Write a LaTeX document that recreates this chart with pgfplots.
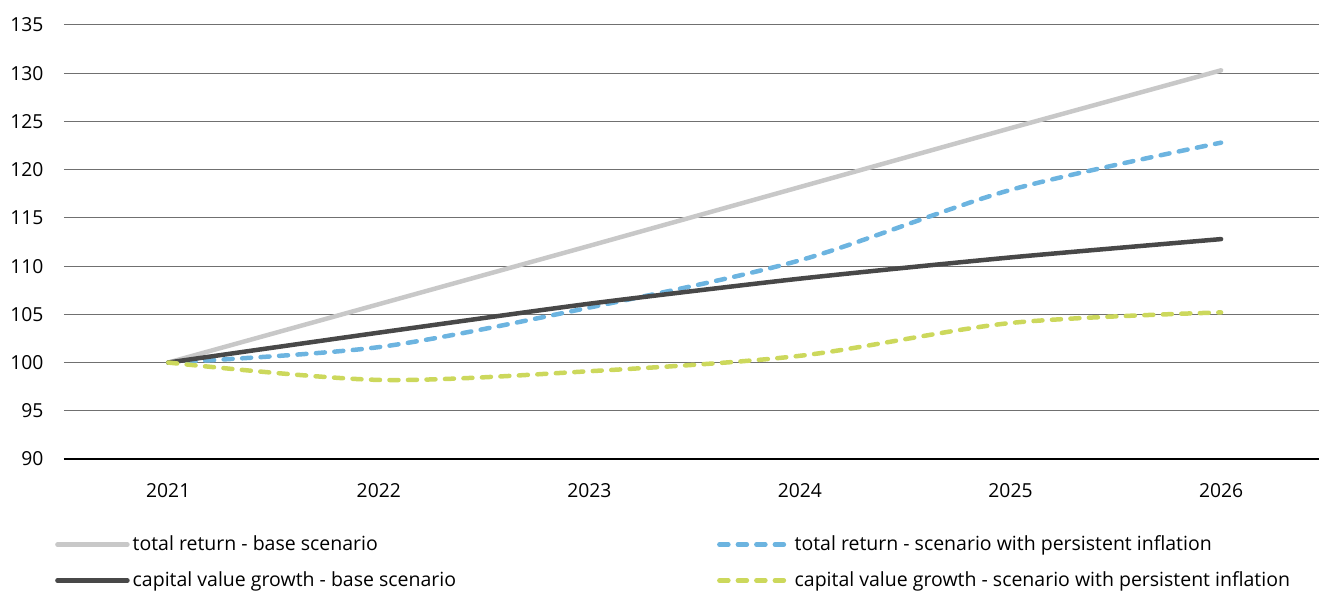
\documentclass[border=0pt]{standalone}
\usepackage{pgfplots}
\pgfplotsset{compat=1.18}
\usetikzlibrary{calc}
\usepackage{fontspec}
\setmainfont{Open Sans}
\definecolor{lgray}{HTML}{C8C8C8}
\definecolor{dgray}{HTML}{484848}
\definecolor{lblue}{HTML}{6CB4E0}
\definecolor{lgreen}{HTML}{CCD85C}
\definecolor{gridc}{HTML}{707070}
\begin{document}
\fontsize{19bp}{23bp}\selectfont
\begin{tikzpicture}
\begin{axis}[
  scale only axis,
  clip=false,
  width=1255bp, height=434bp,
  xmin=2020.505, xmax=2026.465,
  ymin=90, ymax=135,
  xtick={2021,2022,2023,2024,2025,2026},
  xticklabels={2021,2022,2023,2024,2025,2026},
  ytick={90,95,...,135},
  axis line style={draw=none},
  major tick length=0pt,
  ymajorgrids,
  grid style={gridc, line width=1bp},
  tick label style={font=\fontsize{19.3bp}{23bp}\selectfont},
  /pgf/number format/assume math mode=true,
  yticklabel style={anchor=east, xshift=-14bp},
  xticklabel style={anchor=north, yshift=-18bp},
  legend columns=2,
  legend cell align=left,
  legend style={
    at={(rel axis cs:-0.00717,-0.1765)}, anchor=north west,
    draw=none, fill=none, inner sep=0pt,
    font=\fontsize{19.5bp}{23bp}\selectfont,
    nodes={inner sep=0pt, anchor=west},
    row sep=18bp,
    /tikz/every odd column/.append style={column sep=3bp},
    /tikz/every even column/.append style={column sep=261bp},
  },
  legend image code/.code={\draw[#1] (0bp,0bp) -- (70bp,0bp);},
  every axis plot/.append style={line width=4.5bp},
]
\addplot[lgray, line cap=round] coordinates {(2021,100) (2022,106.05) (2023,112.1) (2024,118.2) (2025,124.3) (2026,130.3)};
\addlegendentry{total return - base scenario}
\addplot[lblue, smooth, tension=0.5, line cap=round, dash pattern=on 9bp off 9.5bp] coordinates {(2021,100) (2022,101.6) (2023,105.7) (2024,110.6) (2025,117.9) (2026,122.8)};
\addlegendentry{total return - scenario with persistent inflation}
\addplot[dgray, smooth, tension=0.4, line cap=round] coordinates {(2021,100) (2022,103.1) (2023,106.1) (2024,108.7) (2025,110.9) (2026,112.8)};
\addlegendentry{capital value growth - base scenario}
\addplot[lgreen, smooth, tension=0.5, line cap=round, dash pattern=on 9bp off 9.5bp] coordinates {(2021,100) (2022,98.2) (2023,99.1) (2024,100.7) (2025,104.1) (2026,105.2)};
\addlegendentry{capital value growth - scenario with persistent inflation}
\draw[black, line width=2.4bp] (rel axis cs:0,0) -- (rel axis cs:1,0);
\end{axis}
\pgfresetboundingbox
\useasboundingbox ($(current axis.south west)+(-64bp,-132bp)$) rectangle ($(current axis.north east)+(0bp,25bp)$);
\end{tikzpicture}
\end{document}
